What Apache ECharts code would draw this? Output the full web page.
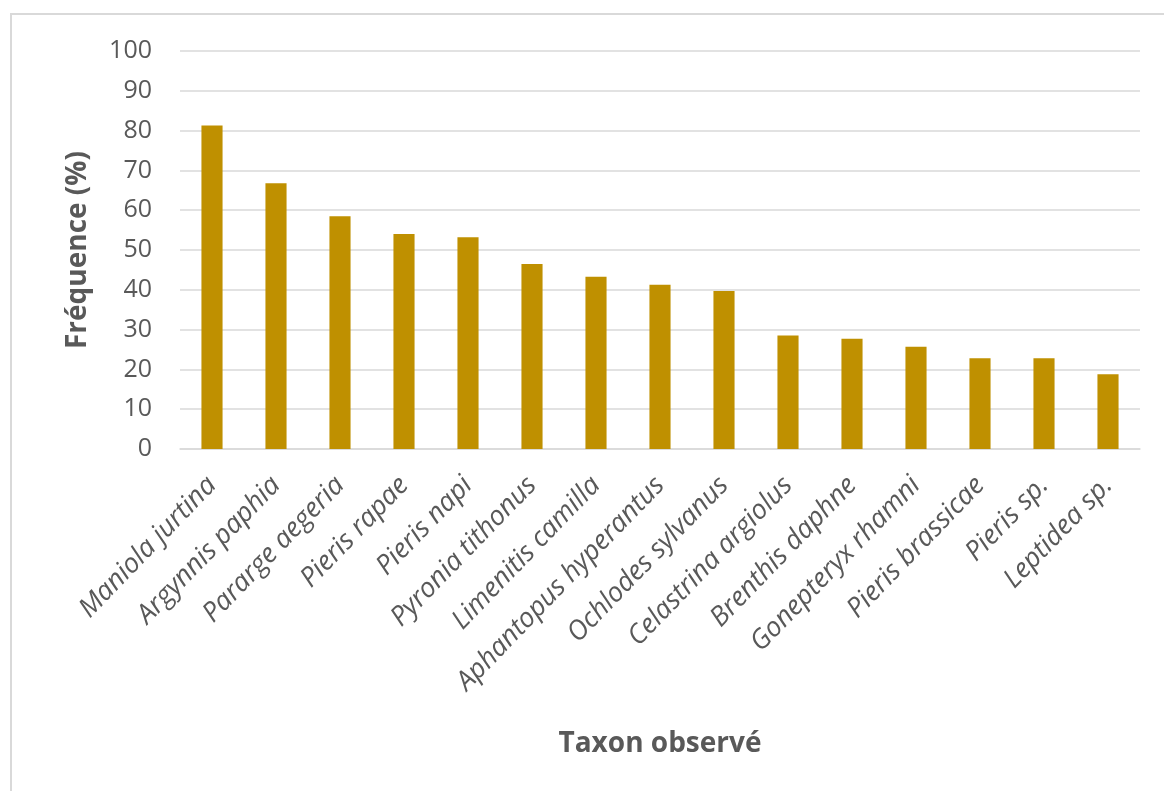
<!DOCTYPE html>
<html>
<head>
<meta charset="utf-8">
<script src="https://cdn.jsdelivr.net/npm/echarts@6/dist/echarts.min.js"></script>
<style>
  html, body { margin: 0; padding: 0; background: #ffffff; }
  #chart { width: 1164px; height: 791px; }
</style>
</head>
<body>
<div id="chart"></div>
<script>
// Observed butterfly taxa and their frequency of observation (%)
const taxa = [
  'Maniola jurtina', 'Argynnis paphia', 'Pararge aegeria', 'Pieris rapae',
  'Pieris napi', 'Pyronia tithonus', 'Limenitis camilla', 'Aphantopus hyperantus',
  'Ochlodes sylvanus', 'Celastrina argiolus', 'Brenthis daphne', 'Gonepteryx rhamni',
  'Pieris brassicae', 'Pieris sp.', 'Leptidea sp.'
];
const frequency = [81.3, 66.8, 58.5, 54.0, 53.2, 46.5, 43.3, 41.3, 39.7, 28.5, 27.7, 25.7, 22.8, 22.8, 18.8];
const yTicks = { min: 0, max: 100, interval: 10 };

const textColor = '#595959';
const gridColor = '#d9d9d9';
const barColor = '#BF9000';
const font = '"Open Sans", "Liberation Sans", sans-serif';

const chart = echarts.init(document.getElementById('chart'), null, { renderer: 'canvas' });
chart.setOption({
  animation: false,
  backgroundColor: '#ffffff',
  textStyle: { fontFamily: font },
  graphic: [{
    type: 'rect',
    shape: { x: 11, y: 14, width: 1200, height: 900 },
    style: { fill: 'none', stroke: '#d9d9d9', lineWidth: 2 },
    silent: true
  }],
  grid: { left: 180, right: 24, top: 51, bottom: 342, containLabel: false },
  xAxis: {
    type: 'category',
    data: taxa,
    name: 'Taxon observé',
    nameLocation: 'middle',
    nameGap: 281,
    nameTextStyle: { color: textColor, fontSize: 28, fontWeight: 'bold', fontFamily: font },
    axisLine: { lineStyle: { color: gridColor, width: 1.5 } },
    axisTick: { show: false },
    axisLabel: {
      rotate: 46,
      interval: 0,
      margin: 32,
      color: textColor,
      fontSize: 27,
      fontStyle: 'italic',
      fontFamily: font
    }
  },
  yAxis: {
    type: 'value',
    min: yTicks.min,
    max: yTicks.max,
    interval: yTicks.interval,
    name: 'Fréquence (%)',
    nameLocation: 'middle',
    nameGap: 88,
    nameRotate: 90,
    nameTextStyle: { color: textColor, fontSize: 28, fontWeight: 'bold', fontFamily: font },
    axisLine: { show: false },
    axisTick: { show: false },
    axisLabel: { color: textColor, fontSize: 25, margin: 28, fontFamily: font },
    splitLine: { lineStyle: { color: gridColor, width: 1.5 } }
  },
  series: [{
    type: 'bar',
    data: frequency,
    barWidth: '33%',
    itemStyle: { color: barColor }
  }]
});
</script>
</body>
</html>
